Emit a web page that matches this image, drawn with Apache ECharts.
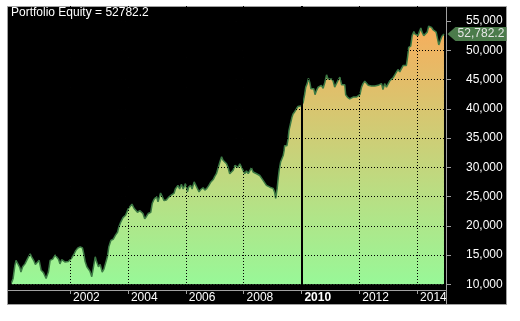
<!DOCTYPE html>
<html><head><meta charset="utf-8">
<script src="https://cdn.jsdelivr.net/npm/echarts@6/dist/echarts.min.js"></script>
<style>html,body{margin:0;padding:0;background:#fff;}#c{width:520px;height:321px;}</style>
</head><body><div id="c"></div>
<script>
const titleText = 'Portfolio Equity = 52782.2';
const lastEquity = 52782.2;
const xTickYears = [2002, 2004, 2006, 2008, 2010, 2012, 2014];
const yTickValues = [10000, 15000, 20000, 25000, 30000, 35000, 40000, 45000, 50000, 55000];
const boldYear = 2010;
const years = [
1999.98,2000.03,2000.09,2000.13,2000.19,2000.26,2000.30,2000.36,2000.44,2000.53,2000.62,2000.67,2000.74,2000.80,2000.85,2000.93,
2001.00,2001.08,2001.17,2001.25,2001.31,2001.40,2001.48,2001.54,2001.60,2001.65,2001.71,2001.77,2001.83,2001.89,2001.94,
2002.00,2002.06,2002.13,2002.20,2002.27,2002.35,2002.43,2002.47,2002.52,2002.58,2002.64,2002.69,2002.75,2002.81,2002.87,2002.92,2002.98,
2003.04,2003.11,2003.17,2003.29,2003.34,2003.41,2003.49,2003.57,2003.64,2003.68,2003.75,2003.83,2003.92,
2004.01,2004.06,2004.14,2004.21,2004.26,2004.33,2004.41,2004.47,2004.52,2004.58,2004.64,2004.70,2004.79,2004.84,2004.90,2004.99,
2005.04,2005.13,2005.18,2005.25,2005.33,2005.41,2005.51,2005.60,2005.64,2005.73,2005.79,2005.85,2005.91,2005.99,
2006.06,2006.10,2006.17,2006.22,2006.29,2006.35,2006.41,2006.46,2006.52,2006.60,2006.66,2006.73,2006.80,2006.87,2006.95,
2007.00,2007.06,2007.12,2007.18,2007.24,2007.29,2007.35,2007.41,2007.46,2007.52,2007.58,2007.64,2007.70,2007.75,2007.81,2007.87,2007.93,2007.98,
2008.04,2008.10,2008.16,2008.21,2008.27,2008.33,2008.39,2008.45,2008.50,2008.56,2008.62,2008.67,2008.73,2008.79,2008.85,2008.91,2008.96,
2009.02,2009.07,2009.11,2009.16,2009.19,2009.23,2009.28,2009.31,2009.37,2009.40,2009.42,2009.46,2009.50,2009.54,2009.57,2009.62,2009.67,2009.71,2009.77,2009.83,2009.88,2009.94,
2010.00,2010.06,2010.11,2010.15,2010.20,2010.24,2010.29,2010.33,2010.38,2010.43,2010.47,2010.52,2010.58,2010.64,2010.69,2010.75,2010.81,2010.87,2010.92,2010.98,
2011.04,2011.10,2011.15,2011.21,2011.27,2011.33,2011.36,2011.39,2011.44,2011.50,2011.53,2011.59,2011.67,2011.73,2011.79,2011.85,2011.90,2011.96,
2012.02,2012.08,2012.13,2012.19,2012.25,2012.31,2012.42,2012.54,2012.65,2012.71,2012.77,2012.82,2012.88,2012.94,
2013.00,2013.06,2013.11,2013.17,2013.23,2013.29,2013.34,2013.40,2013.46,2013.52,2013.57,2013.63,2013.67,2013.71,2013.75,2013.78,2013.83,2013.89,2013.92,2013.98,
2014.03,2014.09,2014.13,2014.17,2014.23,2014.29,2014.35,2014.40,2014.45,2014.50,2014.55,2014.61,2014.66,2014.71,2014.75,2014.78,2014.82,2014.86,2014.93
];
const equity = [
10300,11000,13200,14100,13800,12900,12100,13000,13500,14400,15200,14700,14100,13400,13600,14100,
12400,12000,11000,12100,14100,14300,15000,15200,14300,13500,14200,14300,13800,14100,13900,
14100,14500,15100,15800,16200,16400,16200,15300,13900,13000,13200,12200,11300,13000,14700,13800,13000,
13400,12100,12600,14700,16400,17500,17700,18400,18900,19700,20600,21400,21800,
22900,22900,23700,23000,23300,22300,22600,22500,22100,21200,21600,22100,22300,23800,24500,25000,
24100,25600,25400,24300,24400,24900,25300,25600,26300,26900,26300,27100,26300,27200,
25800,26600,26900,26300,27500,26900,27200,25800,26200,26500,26100,26400,26900,27500,27900,
28400,28900,29000,30900,31800,31200,30900,30600,30000,28900,29000,29500,30300,30100,30000,30600,30300,29500,
28900,29400,28900,29200,29900,29200,28900,28900,28900,28600,28300,27800,27500,26900,26600,26600,26800,
26400,25800,24700,26300,27800,29500,30900,31100,32000,32800,33700,33400,33700,34900,36300,37400,38500,39100,39500,40000,40400,40600,
40500,41100,42400,43700,44300,45200,44500,43400,43500,43400,42400,43100,43700,43500,44000,43500,44500,45800,45100,45000,
45100,44700,43700,44300,44900,45400,45300,44100,44000,44100,42400,42000,41700,41700,42000,41800,42000,41900,
42400,43700,44300,44700,44600,44000,43900,43900,44000,43900,44300,43300,44300,43700,
44000,44800,44700,45300,45800,46300,46700,46300,46100,47400,47100,47400,48800,50500,50800,50700,52500,53200,52800,53000,
52500,52800,53800,53100,52500,52800,53100,54100,54300,53900,53500,53700,53100,51900,50900,51300,51900,52400,52782.2
];

const FONT = '"Liberation Sans", Arial, sans-serif';
const xMin = 1999.853, xMax = 2015.0;
const yMin = 9030, yMax = 57560;
const areaBase = yTickValues[0];
const seriesData = years.map((y, i) => [y, equity[i]]);
const gridColor = '#808080';
const axisGray = '#a0a0a0';

const chart = echarts.init(document.getElementById('c'), null, {renderer: 'canvas'});
chart.setOption({
  backgroundColor: '#ffffff',
  animation: false,
  title: {
    text: titleText, left: 11, top: 7, padding: 0,
    textStyle: {color: '#ffffff', fontSize: 12, fontWeight: 'normal', fontFamily: FONT}
  },
  graphic: [
    {type: 'rect', silent: true, z: -10, shape: {x: 7.5, y: 6.5, width: 499, height: 298},
     style: {fill: '#000000', stroke: axisGray, lineWidth: 1}},
    {type: 'line', silent: true, z: 100, shape: {x1: 446.5, y1: 6, x2: 446.5, y2: 305},
     style: {stroke: axisGray, lineWidth: 1}}
  ],
  grid: {left: 8, right: 74, top: 6, bottom: 31},
  xAxis: [{
    type: 'value', min: xMin, max: xMax, position: 'bottom',
    axisLine: {show: true, onZero: false, lineStyle: {color: axisGray, width: 1}},
    axisTick: {show: true, customValues: xTickYears, length: 4, lineStyle: {color: axisGray}},
    axisLabel: {
      customValues: xTickYears, align: 'left', verticalAlign: 'top', padding: [0, 0, 0, 3], margin: 2,
      color: '#ffffff', fontSize: 12, fontFamily: FONT,
      formatter: v => v === boldYear ? '{b|' + v + '}' : String(v),
      rich: {b: {fontWeight: 'bold', color: '#ffffff', fontSize: 12, fontFamily: FONT}}
    },
    splitLine: {show: true, lineStyle: {color: gridColor, type: [1, 2], width: 1}}
  }, {
    type: 'value', min: xMin, max: xMax, position: 'bottom', z: 5,
    axisLine: {show: false},
    axisTick: {show: false, customValues: xTickYears},
    axisLabel: {show: false, customValues: xTickYears},
    splitLine: {show: true, lineStyle: {color: '#000000', type: [1, 2], width: 1}}
  }],
  yAxis: [{
    type: 'value', min: yMin, max: yMax, position: 'right',
    axisLine: {show: false},
    axisTick: {show: true, customValues: yTickValues, length: 5, lineStyle: {color: axisGray}},
    axisLabel: {
      customValues: yTickValues, margin: 20, color: '#ffffff', fontSize: 12, fontFamily: FONT,
      formatter: v => v.toLocaleString('en-US')
    },
    splitLine: {show: true, lineStyle: {color: gridColor, type: [1, 2], width: 1}}
  }, {
    type: 'value', min: yMin, max: yMax, position: 'right', z: 5,
    axisLine: {show: false},
    axisTick: {show: false, customValues: yTickValues},
    axisLabel: {show: false, customValues: yTickValues},
    splitLine: {show: true, lineStyle: {color: '#000000', type: [1, 2], width: 1}}
  }],
  series: [{
    type: 'line', xAxisIndex: 0, yAxisIndex: 0, data: seriesData,
    showSymbol: false, symbol: 'none', clip: false, silent: true,
    lineStyle: {color: '#3c7a44', width: 1.5},
    areaStyle: {
      origin: areaBase, opacity: 1,
      color: new echarts.graphic.LinearGradient(0, 0, 0, 1, [
        {offset: 0, color: '#f7ad5c'},
        {offset: 1, color: '#98f898'}
      ])
    },
    markLine: {
      silent: true, symbol: ['none', 'none'], label: {show: false},
      lineStyle: {color: '#000000', type: 'solid', width: 2},
      data: [{xAxis: boldYear}]
    },
    markPoint: {
      silent: true,
      symbol: 'path://M0,7L8,0L59,0L59,14L8,14Z',
      symbolSize: [59, 14], symbolKeepAspect: false,
      symbolOffset: [33, 0],
      itemStyle: {color: '#4b7b4b'},
      label: {
        show: true, position: 'inside', offset: [4, 0],
        color: '#e6e6e6', fontSize: 12, fontFamily: FONT,
        formatter: () => lastEquity.toLocaleString('en-US', {minimumFractionDigits: 1})
      },
      data: [{coord: [years[years.length - 1], equity[equity.length - 1]], value: lastEquity}]
    }
  }]
});
</script>
</body></html>
